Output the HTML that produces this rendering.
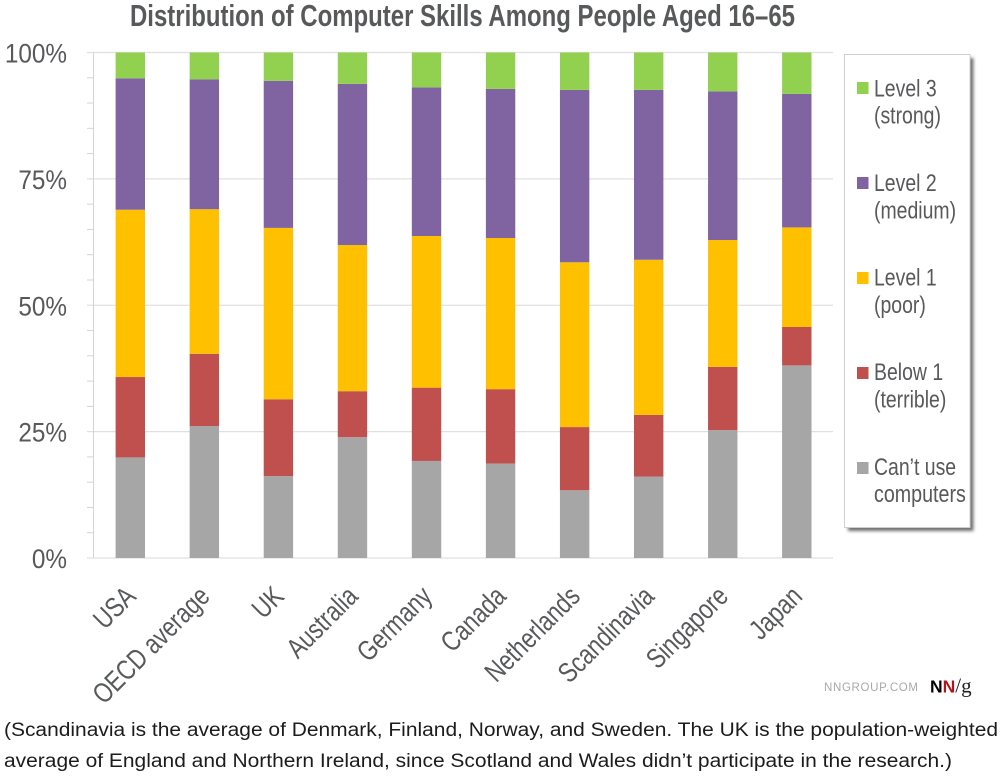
<!DOCTYPE html>
<html lang="en">
<head>
<meta charset="utf-8">
<title>Distribution of Computer Skills Among People Aged 16–65</title>
<style>
html,body{margin:0;padding:0;background:#fff;}
body{width:1008px;height:779px;overflow:hidden;}
svg{display:block;font-family:"Liberation Sans",Arial,sans-serif;}
</style>
</head>
<body>
<svg id="chart" width="1008" height="779" viewBox="0 0 1008 779" xmlns="http://www.w3.org/2000/svg">
  <defs>
    <filter id="legend-shadow" x="-10%" y="-5%" width="125%" height="112%">
      <feGaussianBlur stdDeviation="1.6"/>
    </filter>
  </defs>
  <text x="130" y="26" font-size="31" font-weight="700" fill="#58595b" textLength="665" lengthAdjust="spacingAndGlyphs">Distribution of Computer Skills Among People Aged 16–65</text>
  <g id="grid"></g>
  <g id="bars"></g>
  <g id="y-axis"></g>
  <g id="x-axis"></g>

  <g>
    <rect x="848" y="58" width="125.500" height="473" fill="#6f6f6f" filter="url(#legend-shadow)"/>
    <rect x="844.500" y="54.500" width="125.500" height="473" fill="#fff" stroke="#cfcfcf" stroke-width="1"/>
    <g>
      <rect x="857" y="82" width="11.500" height="12" fill="#92d050"/>
      <text fill="#58595b" font-size="24" transform="translate(874 96.500) scale(.81 1)">Level 3</text>
      <text fill="#58595b" font-size="24" transform="translate(874 123.500) scale(.81 1)">(strong)</text>
    </g>
    <g>
      <rect x="857" y="177" width="11.500" height="12" fill="#8064a2"/>
      <text fill="#58595b" font-size="24" transform="translate(874 191) scale(.81 1)">Level 2</text>
      <text fill="#58595b" font-size="24" transform="translate(874 218.500) scale(.81 1)">(medium)</text>
    </g>
    <g>
      <rect x="857" y="272" width="11.500" height="12" fill="#ffc000"/>
      <text fill="#58595b" font-size="24" transform="translate(874 285.500) scale(.81 1)">Level 1</text>
      <text fill="#58595b" font-size="24" transform="translate(874 313) scale(.81 1)">(poor)</text>
    </g>
    <g>
      <rect x="857" y="367" width="11.500" height="12" fill="#c0504d"/>
      <text fill="#58595b" font-size="24" transform="translate(874 380) scale(.81 1)">Below 1</text>
      <text fill="#58595b" font-size="24" transform="translate(874 407.500) scale(.81 1)">(terrible)</text>
    </g>
    <g>
      <rect x="857" y="462" width="11.500" height="12" fill="#a6a6a6"/>
      <text fill="#58595b" font-size="24" transform="translate(874 475) scale(.81 1)">Can’t use</text>
      <text fill="#58595b" font-size="24" transform="translate(874 502) scale(.82 1)">computers</text>
    </g>
  </g>

  <g>
    <text x="824" y="691" font-size="11.500" fill="#a9a9a9" textLength="94" lengthAdjust="spacing">NNGROUP.COM</text>
    <text x="930" y="692.500" font-size="21" font-family="'Liberation Serif',serif"><tspan font-family="'Liberation Sans',sans-serif" font-weight="700" font-size="17.500" fill="#000">N</tspan><tspan font-family="'Liberation Sans',sans-serif" font-weight="700" font-size="17.500" fill="#b5121b">N</tspan><tspan fill="#222">/g</tspan></text>
  </g>

  <text x="4" y="736" font-size="19" fill="#1c1c1c" textLength="994" lengthAdjust="spacingAndGlyphs">(Scandinavia is the average of Denmark, Finland, Norway, and Sweden. The UK is the population-weighted</text>
  <text x="4" y="767" font-size="19" fill="#1c1c1c" textLength="948" lengthAdjust="spacingAndGlyphs">average of England and Northern Ireland, since Scotland and Wales didn’t participate in the research.)</text>
</svg>

<script>
const categories = ["USA", "OECD average", "UK", "Australia", "Germany", "Canada", "Netherlands", "Scandinavia", "Singapore", "Japan"];
const cantUse = [19.9, 26.1, 16.2, 23.9, 19.2, 18.7, 13.4, 16.1, 25.3, 38.1];
const below1 = [15.9, 14.3, 15.2, 9.1, 14.5, 14.7, 12.5, 12.2, 12.5, 7.6];
const level1 = [33.1, 28.6, 33.9, 28.9, 30.0, 29.9, 32.6, 30.7, 25.1, 19.7];
const level2 = [26.0, 25.7, 29.1, 31.9, 29.4, 29.5, 34.1, 33.6, 29.4, 26.4];
const level3 = [5.1, 5.3, 5.6, 6.2, 6.9, 7.2, 7.4, 7.4, 7.7, 8.2];
const seriesNames = ["cant-use", "below-1", "level-1", "level-2", "level-3"];
const seriesValues = [cantUse, below1, level1, level2, level3];
const seriesColors = ["#a6a6a6", "#c0504d", "#ffc000", "#8064a2", "#92d050"];
const majorTicks = [0, 25, 50, 75, 100];
const minorTicks = [5, 10, 15, 20, 30, 35, 40, 45, 55, 60, 65, 70, 80, 85, 90, 95];

const NS = "http://www.w3.org/2000/svg";
const plotLeft = 93.5, plotRight = 833, plotTop = 52.5, plotBottom = 558;
const firstCenter = 130.3, lastCenter = 796.8, barWidth = 29.4;
const yScale = v => plotBottom - (v / 100) * (plotBottom - plotTop);
const xScale = i => firstCenter + i * (lastCenter - firstCenter) / (categories.length - 1);

function make(tag, attrs, parent) {
  const el = document.createElementNS(NS, tag);
  for (const k in attrs) el.setAttribute(k, attrs[k]);
  parent.appendChild(el);
  return el;
}
const grid = document.getElementById("grid");
const bars = document.getElementById("bars");
const yAxis = document.getElementById("y-axis");
const xAxis = document.getElementById("x-axis");

minorTicks.forEach(t => {
  const line = make("line", {x1: 87, x2: plotLeft, y1: yScale(t), y2: yScale(t), stroke: "#d4d4d4", "stroke-width": 1}, yAxis);
  
  
});
majorTicks.forEach(t => {
  const line = make("line", {x1: 87, x2: plotRight, y1: yScale(t), y2: yScale(t), stroke: "#e0e0e0", "stroke-width": 1.2}, grid);
  
  
  const label = make("text", {x: 0, y: 0, "text-anchor": "end", "font-size": 27, fill: "#58595b",
    transform: "translate(67 " + (yScale(t) + 10) + ") scale(.9 1)"}, yAxis);
  
  
  label.textContent = t + "%";
});
const axisLine = make("line", {x1: plotLeft, x2: plotLeft, y1: plotTop, y2: plotBottom, stroke: "#d4d4d4", "stroke-width": 1}, yAxis);



categories.forEach((cat, i) => {
  let cum = 0;
  seriesValues.forEach((vals, s) => {
    const y1 = yScale(cum), y2 = yScale(Math.min(100, cum + vals[i]));
    const r = make("rect", {x: xScale(i) - barWidth / 2, y: y2, width: barWidth, height: y1 - y2, fill: seriesColors[s]}, bars);
    
    
    cum += vals[i];
  });
  const label = make("text", {x: 0, y: 0, "text-anchor": "end", "font-size": 28, fill: "#58595b",
    transform: "translate(" + (xScale(i) + 7) + " 598) rotate(-45) scale(.8 1)"}, xAxis);
  
  
  label.textContent = cat;
});
</script>
</body>
</html>
